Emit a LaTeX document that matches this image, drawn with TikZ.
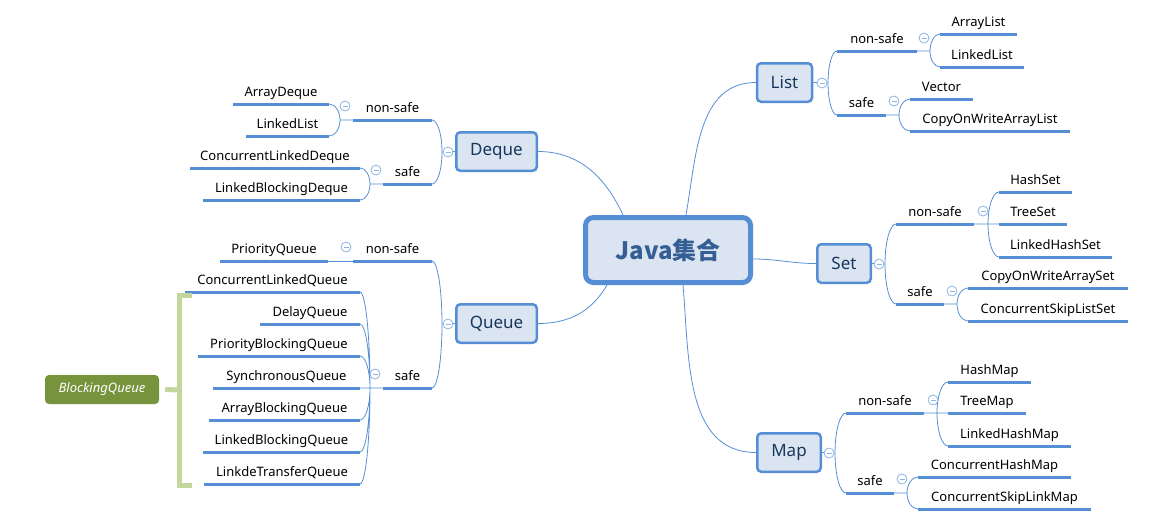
\documentclass[tikz,border=0pt]{standalone}
\usepackage{fontspec}
\setmainfont{Noto Sans}
\newfontfamily\cjk{Noto Sans CJK SC}
\usetikzlibrary{calc}
\definecolor{lineblue}{RGB}{85,142,213}
\definecolor{boxfill}{RGB}{219,229,241}
\definecolor{togblue}{RGB}{142,180,227}
\definecolor{maintext}{RGB}{23,55,94}
\definecolor{centertext}{RGB}{52,94,148}
\definecolor{bqgreen}{RGB}{119,147,60}
\definecolor{brk}{RGB}{195,214,155}
\newcommand\mmleaf[5]{%
  \coordinate (#1L) at (#2,#4);
  \coordinate (#1R) at (#3,#4);
  \node[leaf, minimum width={(#3-#2)*1pt}] (#1) at ({(#2+#3)/2},{#4-8}) {#5};
  \draw[uline] (#1L) -- (#1R);
}
\begin{document}
\begin{tikzpicture}[x=1pt,y=-1pt,
  conn/.style={draw=lineblue, line width=0.8pt},
  cc/.style={to path={.. controls ($(\tikztostart)!0.55!(\tikztostart|-\tikztotarget)$) and ($(\tikztotarget)!0.55!(\tikztostart|-\tikztotarget)$) .. (\tikztotarget)}},
  uline/.style={draw=lineblue, line width=3pt},
  leaf/.style={anchor=base, inner sep=0pt, font=\fontsize{13}{15}\selectfont},
  mainbox/.style={draw=lineblue, line width=2.5pt, fill=boxfill, rounded corners=4pt, minimum height=38.5pt, inner sep=0pt, text=maintext, font=\fontsize{17}{20}\selectfont},
  tog/.style={circle, draw=togblue, line width=0.8pt, fill=white, minimum size=10pt, inner sep=0pt,
    path picture={\draw[togblue, line width=0.8pt] ([xshift=2.5pt]path picture bounding box.west) -- ([xshift=-2.5pt]path picture bounding box.east);}},
  brack/.style={draw=brk, line width=5pt}
]
\useasboundingbox (0,0) rectangle (1161,523);

% central and main nodes
\node[draw=lineblue, line width=5pt, fill=boxfill, rounded corners=8pt, minimum width=165pt, minimum height=65pt, inner sep=0pt, text=centertext, font=\cjk\bfseries\fontsize{24}{28}\selectfont] (J) at (668,250) {Java集合};
\node[mainbox, minimum width=55pt] (List) at (784.5,82.5) {List};
\node[mainbox, minimum width=80.5pt] (Deque) at (496.5,151.5) {Deque};
\node[mainbox, minimum width=80.5pt] (Queue) at (496.5,323.5) {Queue};
\node[mainbox, minimum width=53.5pt] (Set) at (844,263.5) {Set};
\node[mainbox, minimum width=63.5pt] (Map) at (789,452.5) {Map};

\draw[conn] ([xshift=18pt]J.north) to[out=80,in=180] (List.west);
\draw[conn] ([xshift=-45pt]J.north) to[out=115,in=0] (Deque.east);
\draw[conn] ([xshift=-61pt]J.south) to[out=-120,in=0] (Queue.east);
\draw[conn] ([xshift=15pt]J.south) to[out=-85,in=180] (Map.west);
\draw[conn] ([yshift=-9pt]J.east) to[out=0,in=180] (Set.west);

% ---------- List ----------
\coordinate (jList) at (828,83);
\mmleaf{lns}{837}{917}{51}{non-safe}
\mmleaf{ls}{837}{886}{115}{safe}
\mmleaf{l1}{940}{1017}{34}{ArrayList}
\mmleaf{l2}{940}{1024}{67}{LinkedList}
\mmleaf{l3}{910}{973}{99}{Vector}
\mmleaf{l4}{910}{1070}{131}{CopyOnWriteArrayList}
\draw[conn] (List.east) -- (jList);
\draw[conn] (jList) to[cc] (lnsL) (jList) to[cc] (lsL);
\coordinate (jlns) at (930,51);
\draw[conn] (lnsR) -- (jlns) to[cc] (l1L) (jlns) to[cc] (l2L);
\coordinate (jls) at (899,115);
\draw[conn] (lsR) -- (jls) to[cc] (l3L) (jls) to[cc] (l4L);
\node[tog] (tList) at (822,83) {};
\node[tog] (tlns) at (924,38) {};
\node[tog] (tls) at (894,101) {};

% ---------- Set ----------
\coordinate (jSet) at (885,264);
\mmleaf{sns}{896}{974}{224}{non-safe}
\mmleaf{ss}{896}{944}{304}{safe}
\mmleaf{s1}{999}{1072}{192}{HashSet}
\mmleaf{s2}{999}{1067}{224}{TreeSet}
\mmleaf{s3}{999}{1112}{257}{LinkedHashSet}
\mmleaf{s4}{968}{1128}{288}{CopyOnWriteArraySet}
\mmleaf{s5}{968}{1128}{321}{ConcurrentSkipListSet}
\draw[conn] (Set.east) -- (jSet);
\draw[conn] (jSet) to[cc] (snsL) (jSet) to[cc] (ssL);
\coordinate (jsns) at (988,224);
\draw[conn] (snsR) -- (jsns) to[cc] (s1L) (jsns) -- (s2L) (jsns) to[cc] (s3L);
\coordinate (jss) at (957,304);
\draw[conn] (ssR) -- (jss) to[cc] (s4L) (jss) to[cc] (s5L);
\node[tog] (tSet) at (879,264) {};
\node[tog] (tsns) at (983,211) {};
\node[tog] (tss) at (952,291) {};

% ---------- Map ----------
\coordinate (jMap) at (835,453);
\mmleaf{mns}{846}{924}{413}{non-safe}
\mmleaf{ms}{846}{894}{493}{safe}
\mmleaf{m1}{948}{1031}{382}{HashMap}
\mmleaf{m2}{948}{1026}{413}{TreeMap}
\mmleaf{m3}{948}{1071}{446}{LinkedHashMap}
\mmleaf{m4}{918}{1071}{477}{ConcurrentHashMap}
\mmleaf{m5}{918}{1091}{509}{ConcurrentSkipLinkMap}
\draw[conn] (Map.east) -- (jMap);
\draw[conn] (jMap) to[cc] (mnsL) (jMap) to[cc] (msL);
\coordinate (jmns) at (937,413);
\draw[conn] (mnsR) -- (jmns) to[cc] (m1L) (jmns) -- (m2L) (jmns) to[cc] (m3L);
\coordinate (jms) at (907,493);
\draw[conn] (msR) -- (jms) to[cc] (m4L) (jms) to[cc] (m5L);
\node[tog] (tMap) at (829,453) {};
\node[tog] (tmns) at (933,400) {};
\node[tog] (tms) at (902,479) {};

% ---------- Deque ----------
\coordinate (jDeque) at (442,152);
\mmleaf{dns}{353}{432}{120}{non-safe}
\mmleaf{ds}{383}{432}{184}{safe}
\mmleaf{d1}{233}{329}{104}{ArrayDeque}
\mmleaf{d2}{246}{329}{136}{LinkedList}
\mmleaf{d3}{190}{360}{168}{ConcurrentLinkedDeque}
\mmleaf{d4}{203}{360}{200}{LinkedBlockingDeque}
\draw[conn] (Deque.west) -- (jDeque);
\draw[conn] (jDeque) to[cc] (dnsR) (jDeque) to[cc] (dsR);
\coordinate (jdns) at (340,120);
\draw[conn] (dnsL) -- (jdns) to[cc] (d1R) (jdns) to[cc] (d2R);
\coordinate (jds) at (370,184);
\draw[conn] (dsL) -- (jds) to[cc] (d3R) (jds) to[cc] (d4R);
\node[tog] (tDeque) at (448,152) {};
\node[tog] (tdns) at (345,106) {};
\node[tog] (tds) at (376,170) {};

% ---------- Queue ----------
\coordinate (jQueue) at (442,324);
\mmleaf{qns}{353}{432}{261}{non-safe}
\mmleaf{qs}{383}{432}{388}{safe}
\mmleaf{q0}{220}{328}{261}{PriorityQueue}
\mmleaf{q1}{185}{360}{292}{ConcurrentLinkedQueue}
\mmleaf{q2}{260}{360}{324}{DelayQueue}
\mmleaf{q3}{198}{360}{356}{PriorityBlockingQueue}
\mmleaf{q4}{213}{360}{388}{SynchronousQueue}
\mmleaf{q5}{209}{360}{420}{ArrayBlockingQueue}
\mmleaf{q6}{203}{360}{452}{LinkedBlockingQueue}
\mmleaf{q7}{204}{360}{484}{LinkdeTransferQueue}
\draw[conn] (Queue.west) -- (jQueue);
\draw[conn] (jQueue) to[cc] (qnsR) (jQueue) to[cc] (qsR);
\draw[conn] (qnsL) -- (q0R);
\coordinate (jqs) at (370,388);
\draw[conn] (qsL) -- (jqs) to[cc] (q1R) (jqs) to[cc] (q2R) (jqs) to[cc] (q3R) (jqs) -- (q4R)
  (jqs) to[cc] (q5R) (jqs) to[cc] (q6R) (jqs) to[cc] (q7R);
\node[tog] (tQueue) at (448,324) {};
\node[tog] (tqns) at (346,247) {};
\node[tog] (tqs) at (375,374) {};

% ---------- BlockingQueue ----------
\node[fill=bqgreen, rounded corners=4pt, minimum width=114pt, minimum height=29pt, inner sep=0pt, text=white, font=\itshape\fontsize{13}{15}\selectfont] (bq) at (102,389.5) {BlockingQueue};
\coordinate (bt) at (192,295);
\coordinate (bb) at (192,485);
\coordinate (bm) at (179,390);
\draw[brack] (bt) -- (179,295) -- (179,485) -- (bb);
\draw[brack] ([xshift=6pt]bq.east) -- (bm);
\end{tikzpicture}
\end{document}
